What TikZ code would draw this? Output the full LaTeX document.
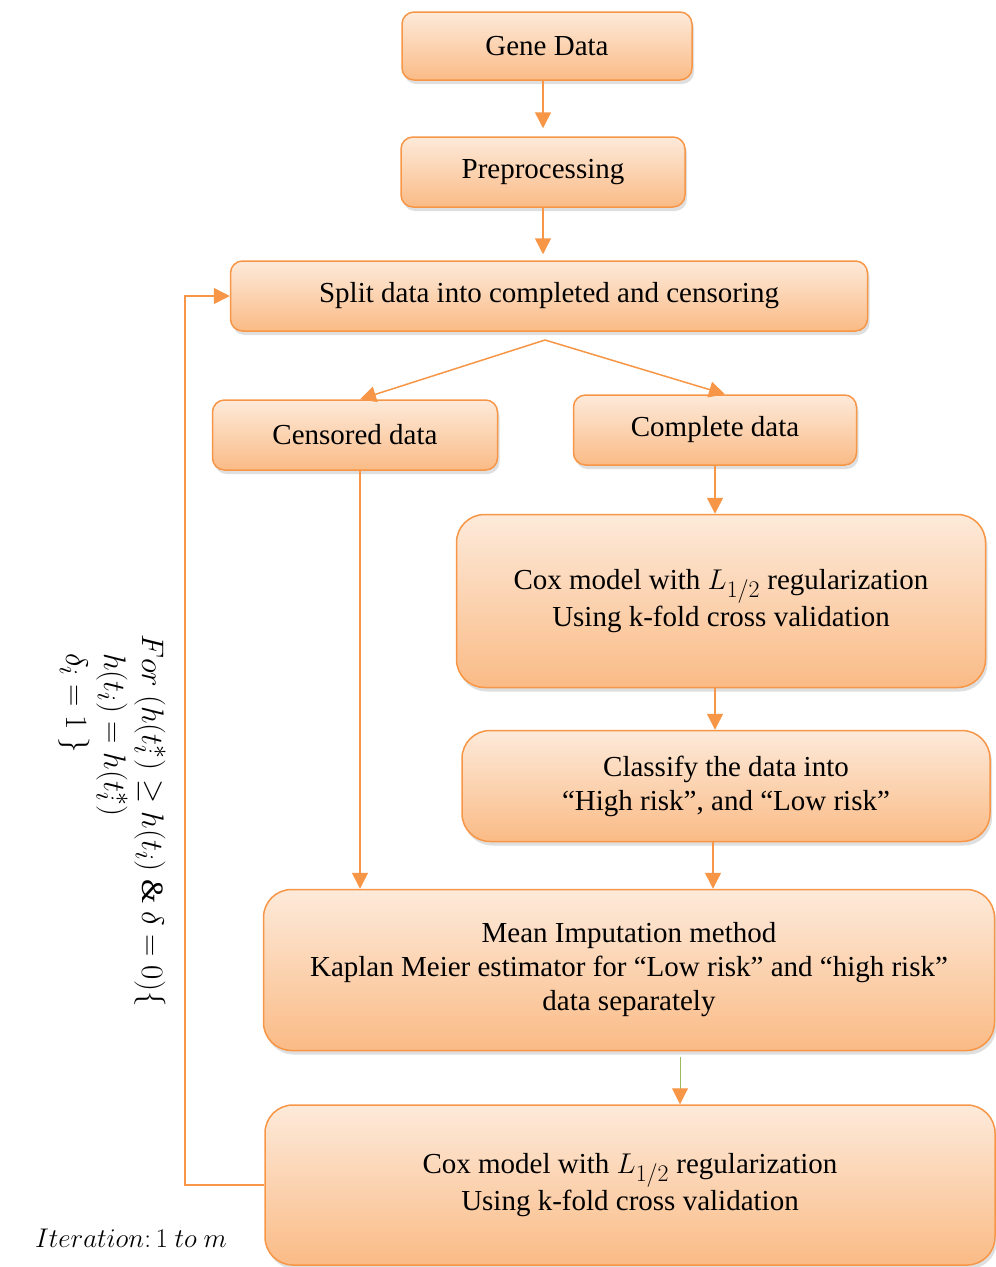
\documentclass[tikz,border=0pt]{standalone}
\usepackage{graphicx}
\usepackage{fontspec}
\setmainfont{Liberation Serif}
\usetikzlibrary{arrows.meta,shadows}

\definecolor{boxline}{HTML}{F79646}
\definecolor{boxtop}{HTML}{FDEADA}
\definecolor{boxbottom}{HTML}{FABB86}
\definecolor{shaftgreen}{HTML}{9BBB59}

\newcommand{\Lhalf}{\scalebox{1.15}{$L_{1/2}$}}

\tikzset{
  box/.style={draw=boxline, line width=1.5pt, top color=boxtop, bottom color=boxbottom,
    rounded corners=12pt, align=center, inner sep=0pt,
    font=\fontsize{29}{34}\selectfont,
    drop shadow={opacity=0.25, shadow xshift=2pt, shadow yshift=-4pt}},
  bigbox/.style={box, rounded corners=28pt},
  arr/.style={draw=boxline, line width=1.5pt, -{Triangle[length=16pt,width=16pt]}}
}

\begin{document}
\begin{tikzpicture}[x=1pt,y=-1pt]
        \useasboundingbox (0,0) rectangle (996,1267);

        % Boxes
        \node[box, minimum width=290pt, minimum height=68pt] (gene) at (547,46) {Gene Data};
        \node[box, minimum width=284pt, minimum height=70pt] (prep) at (543,172) {Preprocessing};
        \node[box, minimum width=637pt, minimum height=70pt] (split) at (549,296) {Split data into completed and censoring};
        \node[box, minimum width=285pt, minimum height=70pt] (cens) at (355,435) {Censored data};
        \node[box, minimum width=283pt, minimum height=70pt] (comp) at (715,430) {Complete data};
        \node[bigbox, minimum width=529pt, minimum height=173pt] (coxa) at (721,601)
            {Cox model with \Lhalf{} regularization\\[2pt] Using k-fold cross validation};
        \node[bigbox, minimum width=528pt, minimum height=111pt] (classify) at (726,786)
            {Classify the data into\\ “High risk”, and “Low risk”};
        \node[bigbox, minimum width=731pt, minimum height=161pt] (mean) at (629,970)
            {Mean Imputation method\\ Kaplan Meier estimator for “Low risk” and “high risk”\\ data separately};
        \node[bigbox, minimum width=730pt, minimum height=160pt] (coxb) at (630,1185)
            {Cox model with \Lhalf{} regularization\\[2pt] Using k-fold cross validation};

        % Arrows down
        \draw[arr, shorten >=8pt] (gene.south -| prep.north) -- (prep.north);
        \draw[arr, shorten >=6pt] (prep.south) -- (prep.south |- split.north);

        % Split
        \coordinate (fork) at (545,340);
        \draw[arr] (fork) -- ([xshift=5pt]cens.north);
        \draw[arr] (fork) -- ([xshift=10pt]comp.north);

        % Complete branch
        \draw[arr] (comp.south) -- (comp.south |- coxa.north);
        \draw[arr] (comp.south |- coxa.south) -- (comp.south |- classify.north);
        \draw[arr] ([xshift=-13pt]classify.south) -- ([xshift=-13pt]classify.south |- mean.north);

        % Censored branch
        \draw[arr] ([xshift=5pt]cens.south) -- ([xshift=5pt]cens.south |- mean.north);

        % Imputation to final model
        \draw[arr, draw=shaftgreen, line width=1pt, shorten <=6pt,
              -{Triangle[length=16pt,width=16pt,color=boxline]}]
            ([xshift=51pt]mean.south) -- ([xshift=51pt]mean.south |- coxb.north);

        % Iteration loop
        \coordinate (back) at (185,1185);
        \draw[arr] (coxb.west) -- (back) |- (split.west);

        \node[rotate=-90, scale=1.25, anchor=north west, align=left, font=\fontsize{24.88}{30.4}\selectfont] (cond) at (170,630)
            {$For\ (h(t_i^*) \geq h(t_i)\ \&\ \delta = 0)\{$\\
             \hspace{15pt}$h(t_i) = h(t_i^*)$\\
             \hspace{15pt}$\delta_i = 1\ \}$};
        \node[scale=1.085, font=\fontsize{24.88}{30}\selectfont] (iter) at (131,1238) {$Iteration\colon 1\ to\ m$};

    \end{tikzpicture}
\end{document}
